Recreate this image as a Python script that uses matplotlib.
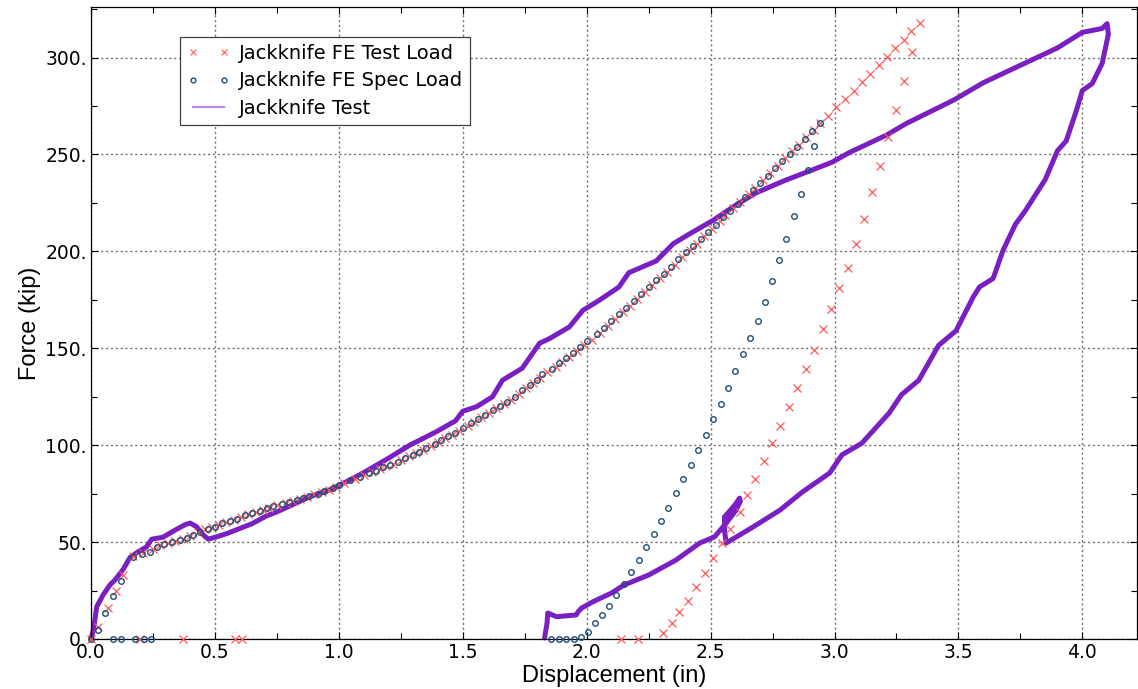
import matplotlib
matplotlib.use("Agg")
import matplotlib.pyplot as plt
from matplotlib.lines import Line2D
from matplotlib.ticker import MultipleLocator, FuncFormatter

# FE model, specified load: loading then unloading (in, kip)
spec_x = [0.0, 0.03, 0.056, 0.09, 0.12, 0.168, 0.204, 0.238, 0.265, 0.294, 0.325, 0.359,
          0.386, 0.41, 0.44, 0.47, 0.50, 0.53, 0.56, 0.587, 0.62, 0.65, 0.68, 0.71, 0.735,
          0.77, 0.80, 0.83, 0.855, 0.88, 0.915, 0.94, 0.975, 1.0, 1.045, 1.085, 1.12, 1.15,
          1.18, 1.205, 1.24, 1.266, 1.30, 1.325, 1.353, 1.387, 1.414, 1.44, 1.47, 1.50,
          1.535, 1.56, 1.59, 1.62, 1.65, 1.68, 1.71, 1.74, 1.77, 1.80, 1.82, 1.86, 1.89,
          1.915, 1.945, 1.975, 2.00, 2.04, 2.07, 2.10, 2.13, 2.16, 2.19, 2.22, 2.25, 2.28,
          2.31, 2.34, 2.37, 2.40, 2.43, 2.46, 2.49, 2.52, 2.55, 2.58, 2.61, 2.64, 2.67,
          2.70, 2.73, 2.76, 2.79, 2.82, 2.85, 2.88, 2.91, 2.94,
          2.917, 2.892, 2.863, 2.835, 2.805, 2.775, 2.747, 2.72, 2.69, 2.66, 2.63, 2.60,
          2.57, 2.54, 2.51, 2.48, 2.45, 2.42, 2.39, 2.36, 2.33, 2.30, 2.27, 2.24, 2.21,
          2.18, 2.15, 2.12, 2.09, 2.06, 2.035, 2.005, 1.978, 1.948, 1.915, 1.887, 1.858,
          0.24, 0.214, 0.177, 0.12, 0.09]
spec_y = [0.0, 4.6, 13.4, 22, 30, 42.4, 44, 45, 47.4, 49, 50, 51,
          52, 53.6, 55.4, 57, 58, 59.8, 61, 62, 64, 65, 66, 67.5, 68.6,
          69.6, 70.6, 71.7, 72.8, 74, 75, 76.3, 77.8, 79.4, 82, 83.7, 85.6, 86.8,
          88.6, 89.7, 91.4, 93.3, 94.8, 96.5, 98.4, 100.5, 102.6, 104.6, 106.4, 108.7,
          111.3, 113.4, 115.5, 118, 120, 122.3, 125, 128.4, 131, 133.5, 136.6, 139.2, 142.3,
          144.8, 147.6, 150.7, 153.6, 157.2, 160.5, 164, 167.5, 171, 174.5, 178, 181.5, 185,
          188.5, 192, 196, 199.5, 203, 206.5, 210, 213.5, 217.5, 221, 224.5, 228, 231.5,
          235.5, 239, 243, 246.5, 250, 254, 258, 262, 266,
          254.3, 241.8, 229.8, 218.2, 206.6, 195.4, 184.5, 173.9, 164, 155.3, 146.9, 138.2,
          129.7, 121.5, 113.4, 105.5, 97.4, 89.9, 82.3, 75.1, 67.7, 60.8, 54, 47.3, 40.7,
          34.4, 28.4, 22.5, 17, 12.2, 8.1, 3.8, 0.8, 0, 0, 0, 0,
          0, 0, 0, 0, 0]

# FE model, test load: loading to a higher peak then unloading
test_load_x = [0.0, 0.03, 0.07, 0.10, 0.13, 0.17, 0.21, 0.25, 0.28, 0.31, 0.34, 0.37,
               0.40, 0.43, 0.46, 0.49, 0.515, 0.545, 0.575, 0.605, 0.635, 0.665, 0.695,
               0.72, 0.75, 0.785, 0.815, 0.845, 0.87, 0.90, 0.93, 0.96, 0.99, 1.02, 1.065,
               1.10, 1.135, 1.165, 1.19, 1.22, 1.25, 1.285, 1.31, 1.34, 1.37, 1.40, 1.43,
               1.455, 1.485, 1.52, 1.545, 1.575, 1.605, 1.635, 1.665, 1.695, 1.725, 1.755,
               1.785, 1.81, 1.84, 1.875, 1.90, 1.93, 1.96, 1.99, 2.02, 2.055, 2.085, 2.115,
               2.145, 2.175, 2.205, 2.235, 2.265, 2.295, 2.325, 2.355, 2.385, 2.415, 2.445,
               2.474, 2.507, 2.536, 2.56, 2.59, 2.62, 2.655, 2.68, 2.71, 2.74, 2.77, 2.80,
               2.83, 2.856, 2.886, 2.917, 2.943, 2.973, 3.007, 3.043, 3.077, 3.11, 3.143,
               3.18, 3.21, 3.245, 3.28, 3.31, 3.345,
               3.312, 3.28, 3.25, 3.215, 3.183, 3.15, 3.118, 3.085, 3.054, 3.017, 2.984,
               2.953, 2.917, 2.883, 2.848, 2.816, 2.78, 2.746, 2.715, 2.68, 2.646, 2.617,
               2.578, 2.546, 2.51, 2.476, 2.44, 2.407, 2.374, 2.343, 2.308, 2.207, 2.14,
               0.61, 0.58, 0.37, 0.198]
test_load_y = [0.0, 6.3, 16, 25, 33, 43, 44.6, 46.5, 48.5, 49.7, 50.6, 51.5,
               53, 55, 56.5, 57.7, 58.9, 60.3, 61.5, 62.7, 64.5, 65.5, 66.8,
               67.8, 69, 70, 71, 72.3, 73.5, 74.6, 75.8, 77, 78.6, 80.5, 82.8,
               84.6, 86.2, 87.6, 89, 90.5, 92.4, 94.2, 95.8, 97.5, 99.5, 101.4, 103.5,
               105.5, 107.4, 110, 112, 114.3, 116.8, 119, 121, 123.5, 126.5, 129.5,
               132, 134.5, 137.5, 140.5, 142.8, 145.6, 148.6, 151.6, 154.5, 158, 161.5, 165,
               168.5, 172, 175.5, 179, 182.5, 186, 189.5, 193, 197, 200.5, 204,
               208, 211.5, 215.5, 219, 222.5, 225.6, 229.4, 232.8, 236.6, 240.4, 244, 248,
               251.6, 255, 259, 262.8, 266, 270, 274.4, 278.7, 283, 287.3, 291.6,
               296, 300.5, 305, 309.3, 313.6, 318,
               303, 288, 273, 259, 244.3, 230.4, 216.9, 203.6, 191.6, 181, 170.5,
               159.8, 149.3, 139.5, 129.5, 119.8, 110.1, 100.9, 91.8, 82.8, 74.2, 65.5,
               56.9, 49.3, 41.6, 34.2, 26.6, 19.7, 13.8, 8.4, 2.9, 0, 0,
               0, 0, 0, 0]

# Measured test curve
exp_x = [0.0, 0.01, 0.023, 0.05, 0.077, 0.097, 0.13, 0.157, 0.19, 0.224, 0.245, 0.29,
         0.345, 0.38, 0.40, 0.426, 0.45, 0.473, 0.507, 0.55, 0.60, 0.65, 0.708, 0.75,
         0.80, 0.843, 0.883, 0.964, 1.044, 1.097, 1.19, 1.286, 1.394, 1.47, 1.50, 1.555,
         1.62, 1.66, 1.74, 1.81, 1.85, 1.93, 1.985, 2.05, 2.13, 2.17, 2.28, 2.35, 2.415,
         2.51, 2.59, 2.68, 2.80, 2.91, 2.99, 3.06, 3.21, 3.29, 3.48, 3.60, 3.75, 3.90,
         4.0, 4.08, 4.10, 4.105, 4.10, 4.08, 4.04, 4.0, 3.976, 3.935, 3.90, 3.85, 3.83,
         3.77, 3.73, 3.68, 3.64, 3.585, 3.56, 3.49, 3.42, 3.34, 3.27, 3.22, 3.11, 3.03,
         2.98, 2.87, 2.78, 2.67, 2.563, 2.556, 2.556, 2.577, 2.60, 2.617, 2.62, 2.60,
         2.563, 2.516, 2.456, 2.36, 2.25, 2.15, 2.10, 2.025, 1.98, 1.965, 1.958, 1.878,
         1.843, 1.84, 1.83]
exp_y = [0.0, 5, 16.7, 23, 28, 30.5, 36, 42, 45, 47.5, 51.5, 52.5,
         56.6, 59, 59.8, 57.9, 54, 51.5, 52.7, 54.5, 57, 59.5, 63.5, 65.6,
         68.5, 71, 73.4, 77, 82, 85.6, 92.5, 100, 107, 112.5, 117.5, 119.8,
         125, 133.5, 139.7, 152.6, 155, 161, 169.6, 174.7, 181.6, 189, 195, 204, 209,
         216, 222.9, 230, 236.6, 242, 246, 251, 260, 266, 278, 287, 296, 305,
         313, 315, 317.5, 312, 309, 297, 286.6, 283, 272.7, 257, 252, 237, 233,
         221, 214, 200.5, 186, 181.6, 176.5, 159, 151.5, 133.5, 126, 116.5, 101, 95,
         85.6, 75.8, 66.5, 57.7, 49.5, 56, 63, 66, 69.5, 72.7, 71, 66,
         59.8, 52.7, 49.5, 40.7, 33, 27.8, 23.7, 19.2, 16, 14, 12.4, 11.5,
         13.4, 8.2, 0.5]

x_ticks = [0.0, 0.5, 1.0, 1.5, 2.0, 2.5, 3.0, 3.5, 4.0]
y_ticks = [0, 50, 100, 150, 200, 250, 300]

fig = plt.figure(figsize=(11.38, 6.89), dpi=100)
ax = fig.add_axes([0.080, 0.0726, 0.919, 0.917])

ax.plot(exp_x, exp_y, color='#7a1fc2', lw=3.6, solid_joinstyle='round',
        solid_capstyle='round', clip_on=False, zorder=2)
ax.plot(test_load_x, test_load_y, ls='none', marker='x', ms=6, mew=0.9,
        color='#ff5a5a', clip_on=False, zorder=3)
ax.plot(spec_x, spec_y, ls='none', marker='o', ms=4, mew=1.0, mfc='none',
        mec='#1f4e79', clip_on=False, zorder=4)

ax.set_xlim(0, 4.22)
ax.set_ylim(0, 326)
ax.set_xticks(x_ticks)
ax.set_yticks(y_ticks)
ax.xaxis.set_minor_locator(MultipleLocator(0.25))
ax.yaxis.set_minor_locator(MultipleLocator(25))
ax.xaxis.set_major_formatter(FuncFormatter(lambda v, p: f'{v:.1f}'))
ax.yaxis.set_major_formatter(FuncFormatter(lambda v, p: f'{int(round(v))}.'))
ax.tick_params(which='both', direction='in', top=True, right=True,
               labelsize=13.5, pad=3, width=0.8)
ax.tick_params(which='major', length=5)
ax.tick_params(which='minor', length=4)
ax.grid(True, which='major', ls=(0, (1.5, 2)), color='#707070', lw=1.0)
for s in ax.spines.values():
    s.set_linewidth(0.9)

ax.set_xlabel('Displacement (in)', family='Liberation Sans', fontsize=17, labelpad=2)
ax.set_ylabel('Force (kip)', family='Liberation Sans', fontsize=17, labelpad=3)

handles = [
    Line2D([], [], ls='none', marker='x', ms=5, mew=0.8, color='#ff5a5a'),
    Line2D([], [], ls='none', marker='o', ms=3.5, mew=1.0, mfc='none', mec='#1f4e79'),
    Line2D([], [], color='#b98be6', lw=1.6),
]
leg = ax.legend(handles, ['Jackknife FE Test Load', 'Jackknife FE Spec Load', 'Jackknife Test'],
                loc='upper left', bbox_to_anchor=(0.085, 0.953), numpoints=2,
                fontsize=14, frameon=True, fancybox=False, borderpad=0.35,
                labelspacing=0.45, handlelength=2.2, handletextpad=0.5, borderaxespad=0)
leg.get_frame().set_edgecolor('#404040')
leg.get_frame().set_linewidth(0.9)
leg.get_frame().set_alpha(1)

fig.savefig('out.png', dpi=100)
